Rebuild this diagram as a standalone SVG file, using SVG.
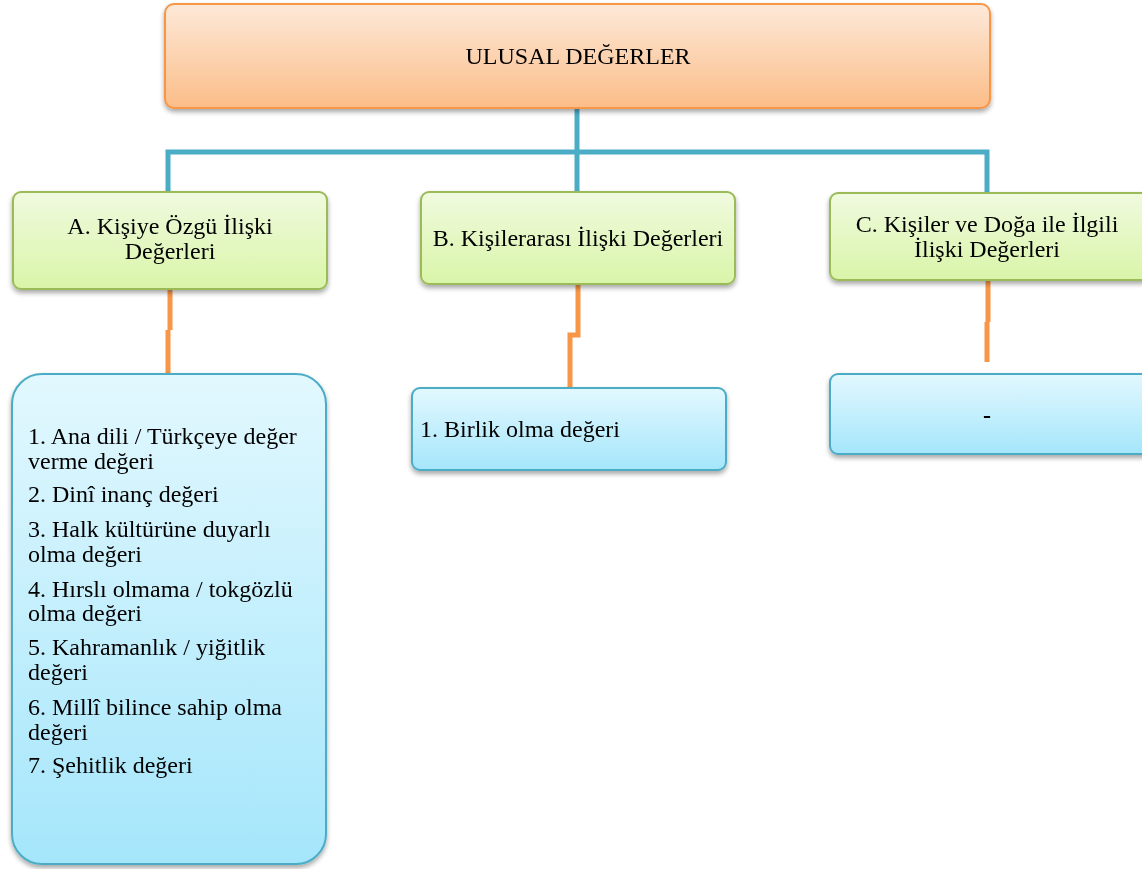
<svg xmlns="http://www.w3.org/2000/svg" width="1142" height="869" viewBox="0 0 1142 869">
<defs>
<linearGradient id="gOrange" x1="0" y1="0" x2="0" y2="1">
<stop offset="0" stop-color="#fde9d9"/>
<stop offset="1" stop-color="#fbbd88"/>
</linearGradient>
<linearGradient id="gGreen" x1="0" y1="0" x2="0" y2="1">
<stop offset="0" stop-color="#f0fadf"/>
<stop offset="1" stop-color="#d9f5a8"/>
</linearGradient>
<linearGradient id="gBlue" x1="0" y1="0" x2="0" y2="1">
<stop offset="0" stop-color="#e2f8fe"/>
<stop offset="1" stop-color="#a5e6fb"/>
</linearGradient>
<filter id="sh" x="-10%" y="-10%" width="120%" height="130%">
<feGaussianBlur in="SourceAlpha" stdDeviation="2.5"/>
<feOffset dx="0" dy="3" result="b"/>
<feComponentTransfer><feFuncA type="linear" slope="0.35"/></feComponentTransfer>
<feMerge><feMergeNode/><feMergeNode in="SourceGraphic"/></feMerge>
</filter>
</defs>
<style>
.t{font-family:"Liberation Serif","Times New Roman",serif;font-size:24px;fill:#000}
.c{text-anchor:middle}
.top{fill:url(#gOrange);stroke:#f79646;stroke-width:2}
.grn{fill:url(#gGreen);stroke:#9bbb59;stroke-width:2}
.blu{fill:url(#gBlue);stroke:#4bacc6;stroke-width:2}
.bl{fill:none;stroke:#4bacc6;stroke-width:5}
.or{fill:none;stroke:#f79646;stroke-width:5}
</style>
<g id="connectors">
<path class="bl" d="M577 108 V152 M168 192 V152 H987 V192 M577 152 V192"/>
<path class="or" d="M170 289 V330 M168 330 V373"/>
<path class="or" d="M578 284 V335 H570 V387"/>
<path class="or" d="M988 280 V322 M987 322 V362"/>
</g>
<g id="root" filter="url(#sh)">
<rect class="top" x="165" y="4" width="825" height="104" rx="9"/>
<text class="t c" x="578" y="64">ULUSAL DEĞERLER</text>
</g>
<g id="nodeA" filter="url(#sh)">
<rect class="grn" x="13" y="192" width="314" height="97" rx="8"/>
<text class="t c" x="170" y="234">A. Kişiye Özgü İlişki</text>
<text class="t c" x="170" y="259">Değerleri</text>
</g>
<g id="nodeB" filter="url(#sh)">
<rect class="grn" x="421" y="192" width="314" height="92" rx="8"/>
<text class="t c" x="578" y="246">B. Kişilerarası İlişki Değerleri</text>
</g>
<g id="nodeC" filter="url(#sh)">
<rect class="grn" x="830" y="193" width="320" height="87" rx="8"/>
<text class="t c" x="987" y="232">C. Kişiler ve Doğa ile İlgili</text>
<text class="t c" x="987" y="257">İlişki Değerleri</text>
</g>
<g id="listA" filter="url(#sh)">
<rect class="blu" x="12" y="374" width="314" height="490" rx="30"/>
<text class="t" x="28" y="444">1. Ana dili / Türkçeye değer</text>
<text class="t" x="28" y="469">verme değeri</text>
<text class="t" x="28" y="502">2. Dinî inanç değeri</text>
<text class="t" x="28" y="537">3. Halk kültürüne duyarlı</text>
<text class="t" x="28" y="562">olma değeri</text>
<text class="t" x="28" y="597">4. Hırslı olmama / tokgözlü</text>
<text class="t" x="28" y="621">olma değeri</text>
<text class="t" x="28" y="655">5. Kahramanlık / yiğitlik</text>
<text class="t" x="28" y="680">değeri</text>
<text class="t" x="28" y="715">6. Millî bilince sahip olma</text>
<text class="t" x="28" y="740">değeri</text>
<text class="t" x="28" y="773">7. Şehitlik değeri</text>
</g>
<g id="listB" filter="url(#sh)">
<rect class="blu" x="412" y="388" width="314" height="82" rx="8"/>
<text class="t" x="420" y="437">1. Birlik olma değeri</text>
</g>
<g id="listC" filter="url(#sh)">
<rect class="blu" x="830" y="374" width="320" height="80" rx="8"/>
<text class="t c" x="987" y="423" font-weight="bold">-</text>
</g>
</svg>
